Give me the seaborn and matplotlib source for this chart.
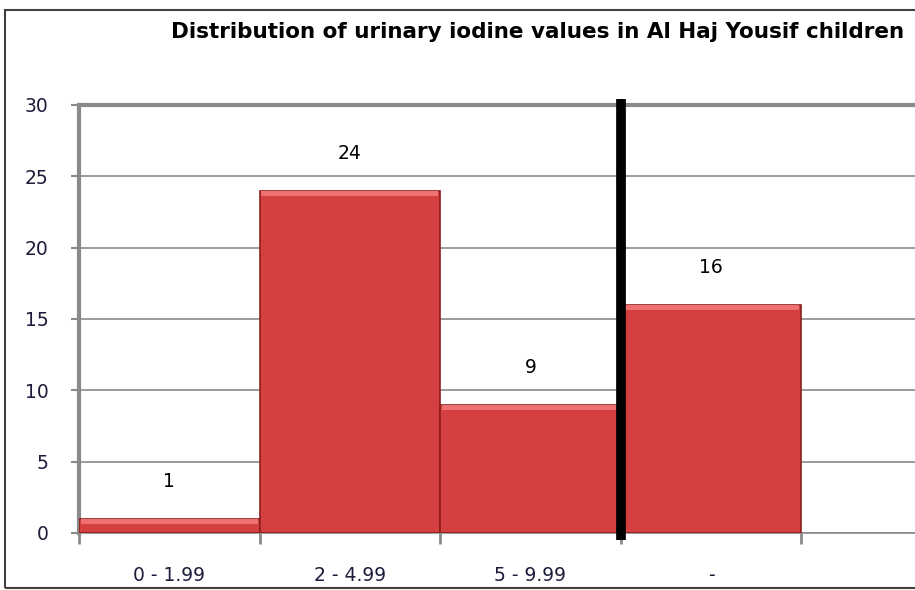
import matplotlib
matplotlib.use("Agg")
import matplotlib.pyplot as plt
import seaborn as sns
import pandas as pd
from matplotlib.patches import Rectangle

# chart values
ranges = ['0 - 1.99', '2 - 4.99', '5 - 9.99', '-']
counts = [1, 24, 9, 16]
y_ticks = [0, 5, 10, 15, 20, 25, 30]
title = "Distribution of urinary iodine values in Al Haj Yousif children"

df = pd.DataFrame({'range': ranges, 'count': counts})

sns.set_style("white")
plt.rcParams['font.family'] = ['DejaVu Sans']

fig = plt.figure(figsize=(9.15, 5.9), dpi=100)
ax = fig.add_axes([79 / 915, 57 / 590, 1 - 79 / 915, 428 / 590])

sns.barplot(data=df, x='range', y='count', color='#d43f3f', width=1.0,
            edgecolor='#8e1f1f', linewidth=1.2, saturation=1, ax=ax, zorder=3)

# light bevel on bar tops
for p in ax.patches:
    h = p.get_height()
    ax.add_patch(Rectangle((p.get_x() + 0.01, h - 0.35), p.get_width() - 0.02, 0.3,
                           color='#ee7070', zorder=4, lw=0))

label_color = '#1c1c3a'
ax.set_ylim(0, 30)
ax.set_xlim(-0.5, 4.13)
ax.set_yticks(y_ticks)
ax.set_yticklabels([str(v) for v in y_ticks], fontsize=13.5, color=label_color)
ax.yaxis.grid(True, color='#8a8a8a', lw=1.2, zorder=0)
ax.tick_params(axis='y', length=6, width=1.5, color='#8a8a8a', pad=16, left=True)

# category labels at centers, boundary ticks as minor ticks
ax.set_xticks(range(len(ranges)))
ax.set_xticklabels(ranges, fontsize=13.5, color=label_color)
ax.tick_params(axis='x', which='major', length=0, pad=24)
ax.set_xticks([-0.5, 0.5, 1.5, 2.5, 3.5], minor=True)
ax.tick_params(axis='x', which='minor', length=8, width=2, color='#8a8a8a', bottom=True)
ax.set_xlabel('')
ax.set_ylabel('')

for s in ['right', 'top']:
    ax.spines[s].set_visible(False)
ax.spines['left'].set_color('#8a8a8a')
ax.spines['left'].set_linewidth(3)
ax.spines['bottom'].set_color('#8a8a8a')
ax.spines['bottom'].set_linewidth(1.2)
ax.axhline(30, color='#8a8a8a', lw=3, zorder=2, clip_on=False)

# value labels
for i, v in enumerate(counts):
    ax.annotate(str(v), (i, v), xytext=(0, 27), textcoords='offset points',
                ha='center', va='center', fontsize=13.5, color='black')

# thick black divider
ax.plot([2.5, 2.5], [-0.5, 30.4], color='black', lw=7, clip_on=False, zorder=6,
        solid_capstyle='butt')

fig.text(538 / 915, 1 - 32 / 590, title, ha='center', va='center',
         fontsize=15.5, fontweight='bold', color='black')

# outer chart border
fig.patches.append(Rectangle((5 / 915, 2 / 590), 1.2, 578 / 590, transform=fig.transFigure,
                             fill=False, edgecolor='#404040', lw=1.5))

fig.savefig('out.png', dpi=100)
